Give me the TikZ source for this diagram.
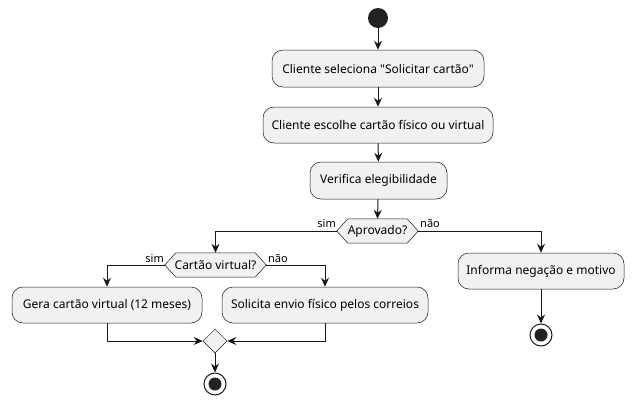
\documentclass[tikz,border=0pt]{standalone}
\usepackage{fontspec}
\setmainfont{Noto Sans}[Ligatures=TeXOff]
\usetikzlibrary{arrows.meta,shapes.geometric}
\definecolor{boxfill}{HTML}{F1F1F1}
\definecolor{lin}{HTML}{181818}
\definecolor{dot}{HTML}{222222}
\begin{document}
\begin{tikzpicture}[x=1pt,y=-1pt,
  act/.style={draw=lin,line width=0.5pt,fill=boxfill,rounded corners=11pt,inner sep=0pt,font=\fontsize{12}{14}\selectfont},
  hexnode/.style={inner sep=0pt,font=\fontsize{12}{14}\selectfont},
  lbl/.style={inner sep=0pt,font=\fontsize{11}{13}\selectfont},
  flow/.style={draw=lin,line width=1pt,-{Stealth[length=9pt,width=8pt,inset=3pt]}},
  startdot/.style={circle,fill=dot,minimum size=20pt,inner sep=0pt},
  endring/.style={circle,draw=lin,line width=1pt,fill=white,minimum size=22pt,inner sep=0pt},
  enddot/.style={circle,fill=dot,minimum size=13pt,inner sep=0pt},
  hexshape/.style={draw=lin,line width=0.5pt,fill=boxfill},
  mergenode/.style={diamond,draw=lin,line width=0.5pt,fill=boxfill,minimum width=24pt,minimum height=24pt,inner sep=0pt,aspect=1}
]
\useasboundingbox (0,0) rectangle (635,405);
\fill[white] (0,0) rectangle (635,405);

\node[startdot] (start) at (378,18) {};
\node[act,minimum width=212pt,minimum height=37pt] (b1) at (378,68.5) {Cliente seleciona "Solicitar cartão"};
\node[act,minimum width=230pt,minimum height=36pt] (b2) at (378,125) {Cliente escolhe cartão físico ou virtual};
\node[act,minimum width=137pt,minimum height=37pt] (b3) at (378.5,180.5) {Verifica elegibilidade};

% decision Aprovado?
\node[hexnode,minimum width=81pt,minimum height=24pt] (d1) at (377.5,231) {};
\draw[hexshape] ([xshift=11pt]d1.north west) -- ([xshift=-11pt]d1.north east) -- (d1.east) -- ([xshift=-11pt]d1.south east) -- ([xshift=11pt]d1.south west) -- (d1.west) -- cycle;
\node[hexnode] at (d1) {Aprovado?};
\node[lbl,anchor=base east] (l1) at (336,227) {sim};
\node[lbl,anchor=base west] (l2) at (420,227) {não};

% decision Cartão virtual?
\node[hexnode,minimum width=101pt,minimum height=24pt] (d2) at (215.5,265) {};
\draw[hexshape] ([xshift=11pt]d2.north west) -- ([xshift=-11pt]d2.north east) -- (d2.east) -- ([xshift=-11pt]d2.south east) -- ([xshift=11pt]d2.south west) -- (d2.west) -- cycle;
\node[hexnode] at (d2) {Cartão virtual?};
\node[lbl,anchor=base east] (l3) at (164,262) {sim};
\node[lbl,anchor=base west] (l4) at (268,262) {não};

\node[act,minimum width=190pt,minimum height=36pt] (gera) at (107,305) {Gera cartão virtual (12 meses)};
\node[act,minimum width=206pt,minimum height=36pt] (sol) at (325,305) {Solicita envio físico pelos correios};
\node[act,minimum width=166pt,minimum height=36pt] (inf) at (541,271) {Informa negação e motivo};

% merge
\node[mergenode] (m) at (215,341) {};

\node[endring] (e1) at (215,384) {};
\node[enddot] at (e1) {};
\node[endring] (e2) at (541,335) {};
\node[enddot] at (e2) {};

\draw[flow] (start) -- (b1);
\draw[flow] (b1) -- (b2);
\draw[flow] (b2) -- (b3);
\draw[flow] (b3) -- (d1.north);
\draw[flow] (d1.west) -| (d2.north);
\draw[flow] (d1.east) -| (inf.north);
\draw[flow] (d2.west) -| (gera.north);
\draw[flow] (d2.east) -| (sol.north);
\draw[flow] (gera.south) |- (m.west);
\draw[flow] (sol.south) |- (m.east);
\draw[flow] (m.south) -- (e1);
\draw[flow] (inf.south) -- (e2);
\end{tikzpicture}
\end{document}
